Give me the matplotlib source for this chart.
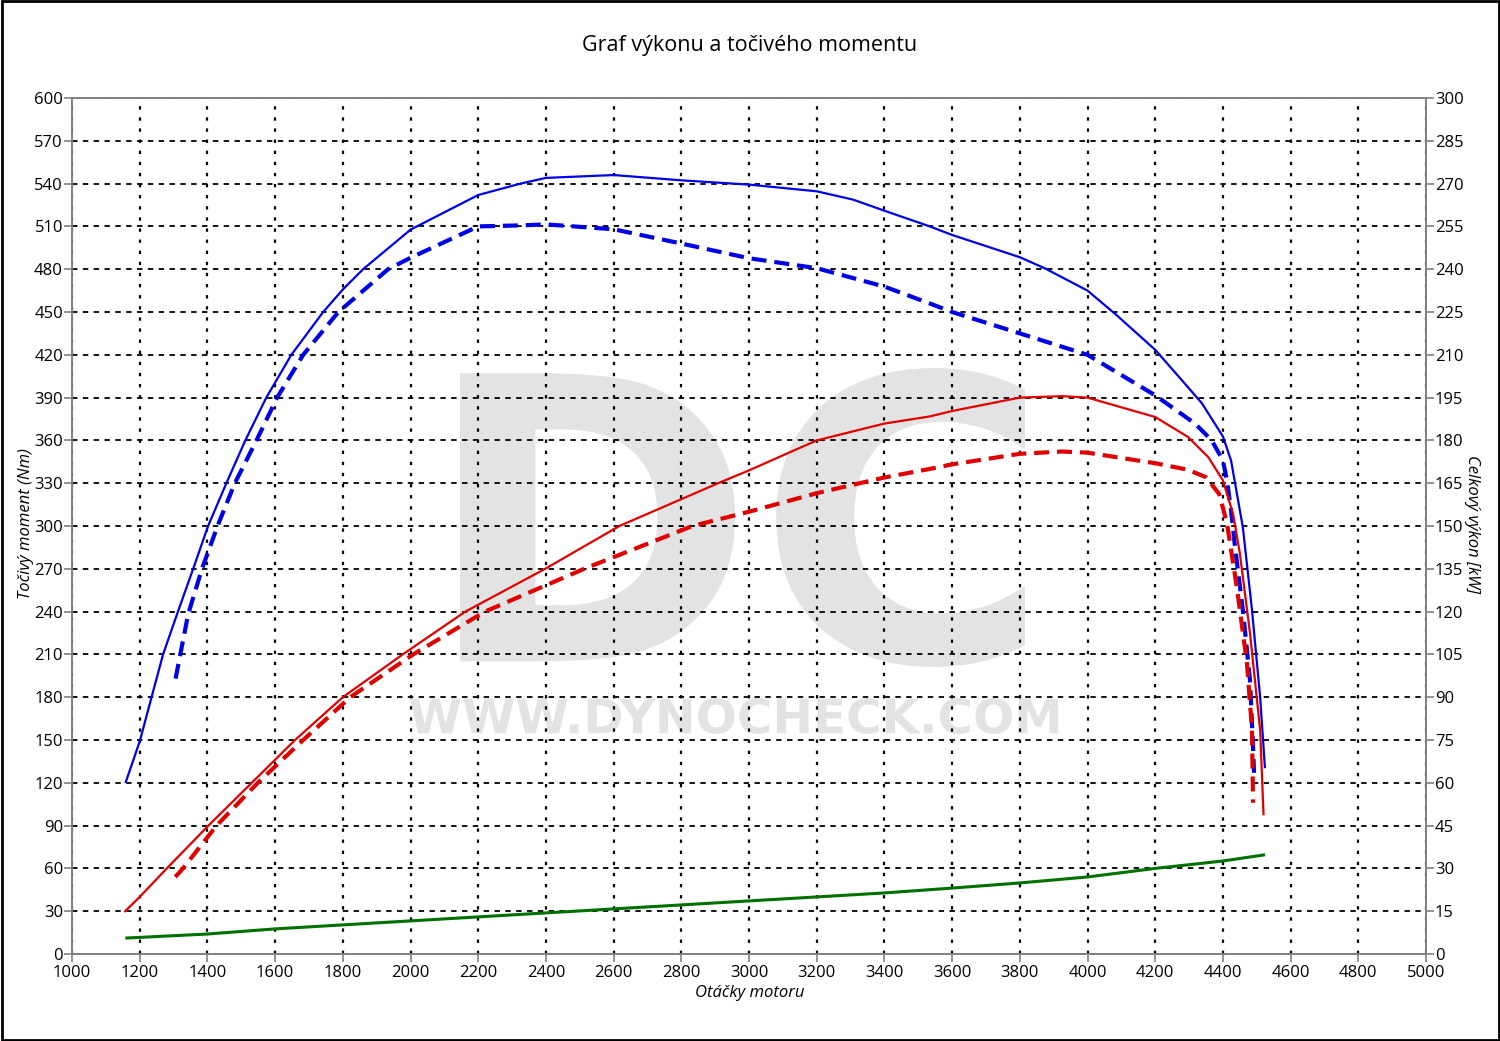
import numpy as np
import matplotlib.pyplot as plt
from matplotlib.textpath import TextPath
from matplotlib.patches import PathPatch, Rectangle
from matplotlib.font_manager import FontProperties
from matplotlib.transforms import Affine2D

plt.rcParams['font.family'] = ['Open Sans', 'DejaVu Sans']

# DATA
# torque, Nm (left axis)
rpm_tq = [1159, 1200, 1269, 1313, 1358, 1402, 1456, 1512, 1574, 1648, 1742, 1801, 1860, 2000,
          2200, 2325, 2400, 2600, 2800, 3000, 3200, 3307, 3400, 3534, 3600, 3800, 3875, 4000,
          4085, 4200, 4278, 4338, 4400, 4424, 4459, 4486, 4510, 4524]
tq_tuned = [120.6, 149, 210, 240, 270, 300, 330, 360, 390, 420, 450, 466, 480, 507.7,
            532, 540, 544, 546, 542.3, 539.3, 534.6, 528.8, 521, 510, 504, 488.4, 480.5, 465,
            448, 423.5, 402.4, 386, 362.8, 346, 299, 241, 180, 131]

rpm_tq0 = [1306, 1343, 1384, 1430, 1481, 1545, 1606, 1683, 1787, 1934, 2000, 2200, 2325, 2400,
           2600, 2800, 3000, 3200, 3400, 3534, 3600, 3800, 4000, 4200, 4318, 4367, 4400, 4412,
           4424, 4436, 4459, 4480, 4489, 4492]
tq_stock = [193, 238, 270, 300, 330, 360, 390, 420, 450, 480, 488, 510, 510.7, 511.4,
            508, 498, 487.7, 480.7, 467.8, 456, 450, 435, 420, 391.6, 371.7, 360, 346, 332,
            311, 285, 241, 192, 145, 127]

# power, kW (right axis)
rpm_pw = [1157, 1200, 1280, 1403, 1531, 1659, 1800, 1977, 2162, 2398, 2617, 2909, 3000, 3200,
          3400, 3534, 3600, 3800, 3925, 4000, 4200, 4297, 4357, 4400, 4430, 4450, 4480, 4510, 4520]
pw_tuned = [15, 20, 30, 45, 60, 75, 90, 105, 120, 135, 150, 165, 169.5, 180,
            185.9, 188.4, 190.3, 195, 195.5, 195, 188.2, 181.2, 174.1, 166, 154.2, 140.5, 112.5, 78.5, 49]

rpm_pw0 = [1305, 1328, 1427, 1549, 1683, 1822, 2008, 2220, 2513, 2833, 3000, 3200, 3400, 3534,
           3600, 3800, 3925, 4000, 4200, 4297, 4350, 4389, 4412, 4441, 4471, 4486, 4489]
pw_stock = [27, 30, 45, 60, 75, 90, 105, 120, 135, 150, 155, 161.5, 167, 170,
            171.6, 175.3, 176.1, 175.7, 172, 169.7, 167.1, 161.2, 151, 128.6, 102, 78.5, 53]

# loss power, kW (right axis)
rpm_loss = [1162, 1400, 1600, 1800, 2000, 2200, 2400, 2600, 2800, 3000, 3200, 3400,
            3600, 3800, 4000, 4200, 4400, 4520]
pw_loss = [5.6, 7.0, 8.8, 10.2, 11.6, 13, 14.4, 15.8, 17.2, 18.6, 20, 21.4,
           23.1, 24.9, 27, 30, 32.6, 34.7]

W, H = 1500, 1041
fig = plt.figure(figsize=(W / 100, H / 100), dpi=100)
fig.patches.append(Rectangle((0.001, 0.001), 0.998, 0.998, transform=fig.transFigure,
                             fill=False, edgecolor='black', linewidth=2))

ax = fig.add_axes([72 / W, (H - 954) / H, (1426 - 72) / W, (954 - 98) / H])
ax2 = ax.twinx()

grey = '#808080'
ax.set_xlim(1000, 5000)
ax.set_ylim(0, 600)
ax2.set_ylim(0, 300)
ax.set_xticks(np.arange(1000, 5001, 200))
ax.set_yticks(np.arange(0, 601, 30))
ax2.set_yticks(np.arange(0, 301, 15))

for a in (ax, ax2):
    for s in a.spines.values():
        s.set_color(grey)
        s.set_linewidth(1.2)
    a.tick_params(colors=grey, labelcolor='black', labelsize=12, length=6, width=1.2)
ax.tick_params(axis='y', pad=0.5)
ax2.tick_params(axis='y', pad=0.5)
ax.tick_params(axis='x', pad=2)

# grid
ax.set_axisbelow(True)
ax.grid(axis='y', color='black', linestyle=(0, (3, 3)), linewidth=1.3)
ax.grid(axis='x', color='black', linestyle=(0, (1.5, 3.5)), linewidth=1.6)

# watermark
def watermark(text, box):
    tp = TextPath((0, 0), text, size=100, prop=FontProperties(family='DejaVu Sans', weight='bold'))
    ext = tp.get_extents()
    x0, y0, x1, y1 = box
    tr = (Affine2D().translate(-ext.x0, -ext.y0)
          .scale((x1 - x0) / ext.width, (y1 - y0) / ext.height)
          .translate(x0, y0))
    patch = PathPatch(tr.transform_path(tp), facecolor='#e3e3e3', edgecolor='none',
                      transform=fig.transFigure, zorder=0.1)
    ax.add_patch(patch)

watermark('DC', (460 / W, (H - 667) / H, 1025 / W, (H - 368) / H))
watermark('WWW.DYNOCHECK.COM', (410 / W, (H - 734) / H, 1058 / W, (H - 698) / H))

# curves
dash = (0, (3.6, 1.9))
ax.plot(rpm_tq, tq_tuned, color='#0000e6', linewidth=1.6, zorder=3)
ax.plot(rpm_tq0, tq_stock, color='#0000e6', linewidth=3, linestyle=dash, zorder=3)
ax2.plot(rpm_pw, pw_tuned, color='#e00000', linewidth=1.6, zorder=3)
ax2.plot(rpm_pw0, pw_stock, color='#e00000', linewidth=3, linestyle=dash, zorder=3)
ax2.plot(rpm_loss, pw_loss, color='#007000', linewidth=2.2, zorder=3)

fig.text(750 / W, (H - 46) / H, 'Graf výkonu a točivého momentu', ha='center', va='center', fontsize=15.5)
fig.text(750 / W, (H - 993) / H, 'Otáčky motoru', ha='center', va='center', fontsize=12, style='italic')
fig.text(26 / W, (H - 524) / H, 'Točivý moment (Nm)', ha='center', va='center', fontsize=12,
         style='italic', rotation=90)
fig.text(1472 / W, (H - 524) / H, 'Celkový výkon [kW]', ha='center', va='center', fontsize=12,
         style='italic', rotation=-90)

fig.savefig('out.png', dpi=100)
